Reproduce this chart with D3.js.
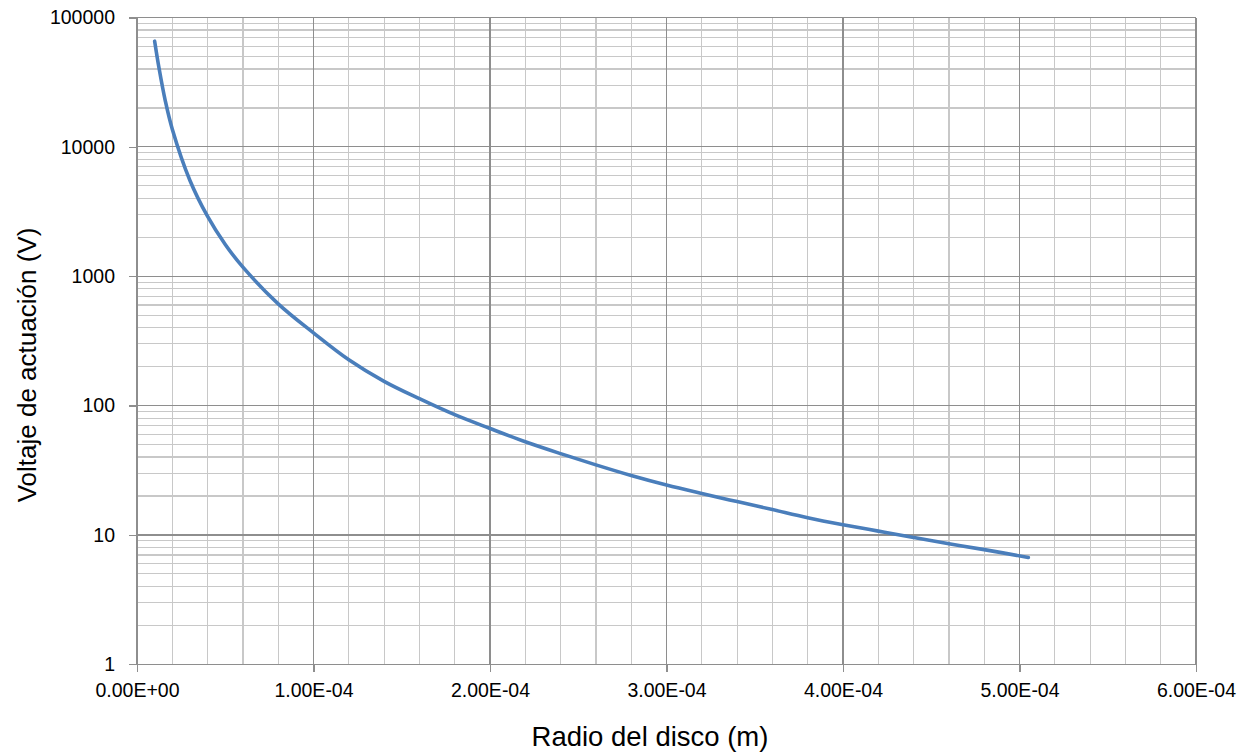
<!DOCTYPE html>
<html>
<head>
<meta charset="utf-8">
<script src="https://cdn.jsdelivr.net/npm/d3@7"></script>
<style>
	body { margin: 0; background: #fff; }
	svg { display: block; }
	text { font-family: "Liberation Sans", Arial, sans-serif; fill: #000; }
</style>
</head>
<body>
<script>

// radius of the disc (m) and actuation voltage (V)
let radius = [1.0e-5, 1.25e-5, 1.6e-5, 2.0e-5, 3.0e-5, 4.0e-5, 5.0e-5, 6.0e-5, 8.0e-5,
	1.0e-4, 1.2e-4, 1.4e-4, 1.6e-4, 1.8e-4, 2.0e-4, 2.2e-4, 2.4e-4, 2.6e-4, 2.8e-4,
	3.0e-4, 3.2e-4, 3.4e-4, 3.6e-4, 3.8e-4, 4.0e-4, 4.2e-4, 4.4e-4, 4.6e-4, 4.8e-4, 5.05e-4];
let voltage = [65600, 40500, 22800, 13700, 5500, 2900, 1760, 1175, 612,
	365, 226, 154, 113, 85, 66.5, 52.5, 42.5, 34.8, 28.8,
	24.3, 20.9, 18.1, 15.7, 13.6, 12.0, 10.7, 9.55, 8.55, 7.7, 6.7];

let xTicks = [0, 1e-4, 2e-4, 3e-4, 4e-4, 5e-4, 6e-4];
let xTickLabels = ['0.00E+00', '1.00E-04', '2.00E-04', '3.00E-04', '4.00E-04', '5.00E-04', '6.00E-04'];
let yTicks = [1, 10, 100, 1000, 10000, 100000];
let yTickLabels = ['1', '10', '100', '1000', '10000', '100000'];

let xTitle = 'Radio del disco (m)';
let yTitle = 'Voltaje de actuación (V)';

let width = 1241;
let height = 755;
let plotL = 137, plotR = 1196, plotT = 17.5, plotB = 664.3;

let majorColor = '#8e8e8e';
let minorColor = '#c8c8c8';

let svg = d3.select('body').append('svg')
	.attr('width', width)
	.attr('height', height);

let xScale = d3.scaleLinear().domain([0, 6e-4]).range([plotL, plotR]);
let yScale = d3.scaleLog().domain([1, 1e5]).range([plotB, plotT]);

// minor grid lines
let xMinor = d3.range(0, 30).map(i => i * 2e-5).filter((v, i) => i % 5 != 0);
let yMinor = [];
for (let k = 0; k < 5; ++k)
	for (let m = 2; m < 10; ++m) yMinor.push(m * Math.pow(10, k));

let grid = svg.append('g').attr('shape-rendering', 'crispEdges');
grid.selectAll('line.xmin').data(xMinor).enter().append('line')
	.attr('x1', d => xScale(d)).attr('x2', d => xScale(d))
	.attr('y1', plotT).attr('y2', plotB)
	.attr('stroke', minorColor).attr('stroke-width', 1.2);
grid.selectAll('line.ymin').data(yMinor).enter().append('line')
	.attr('x1', plotL).attr('x2', plotR)
	.attr('y1', d => yScale(d)).attr('y2', d => yScale(d))
	.attr('stroke', minorColor).attr('stroke-width', 1.2);

// major grid lines
grid.selectAll('line.xmaj').data(xTicks).enter().append('line')
	.attr('x1', d => xScale(d)).attr('x2', d => xScale(d))
	.attr('y1', plotT).attr('y2', plotB)
	.attr('stroke', majorColor).attr('stroke-width', 1.2);
grid.selectAll('line.ymaj').data(yTicks).enter().append('line')
	.attr('x1', plotL).attr('x2', plotR)
	.attr('y1', d => yScale(d)).attr('y2', d => yScale(d))
	.attr('stroke', majorColor).attr('stroke-width', 1.2);

// axes
let xAxis = svg.append('g')
	.attr('transform', `translate(0,${plotB})`)
	.call(d3.axisBottom(xScale)
		.tickValues(xTicks)
		.tickSize(8)
		.tickPadding(11)
		.tickFormat((d, i) => xTickLabels[i]));
let yAxis = svg.append('g')
	.attr('transform', `translate(${plotL},0)`)
	.call(d3.axisLeft(yScale)
		.tickValues(yTicks)
		.tickSize(8)
		.tickPadding(14)
		.tickFormat((d, i) => yTickLabels[i]));

[xAxis, yAxis].forEach(a => {
	a.attr('shape-rendering', 'crispEdges');
	a.select('.domain').attr('stroke', majorColor).attr('stroke-width', 1.2);
	a.selectAll('.tick line').attr('stroke', majorColor).attr('stroke-width', 1.2);
	a.selectAll('.tick text')
		.style('font-family', '"Liberation Sans", Arial, sans-serif')
		.style('font-size', '19.5px')
		.attr('fill', '#000');
});

// curve
let line = d3.line()
	.x((d, i) => xScale(radius[i]))
	.y(d => yScale(d))
	.curve(d3.curveCatmullRom.alpha(0.5));
svg.append('path')
	.datum(voltage)
	.attr('fill', 'none')
	.attr('stroke', '#4a7ebb')
	.attr('stroke-width', 3.6)
	.attr('stroke-linecap', 'round')
	.attr('d', line);

// titles
svg.append('text')
	.attr('x', 650)
	.attr('y', 746)
	.attr('text-anchor', 'middle')
	.style('font-size', '27.5px')
	.text(xTitle);
svg.append('text')
	.attr('transform', 'translate(36,365) rotate(-90)')
	.attr('text-anchor', 'middle')
	.style('font-size', '26px')
	.text(yTitle);
</script>
</body>
</html>
